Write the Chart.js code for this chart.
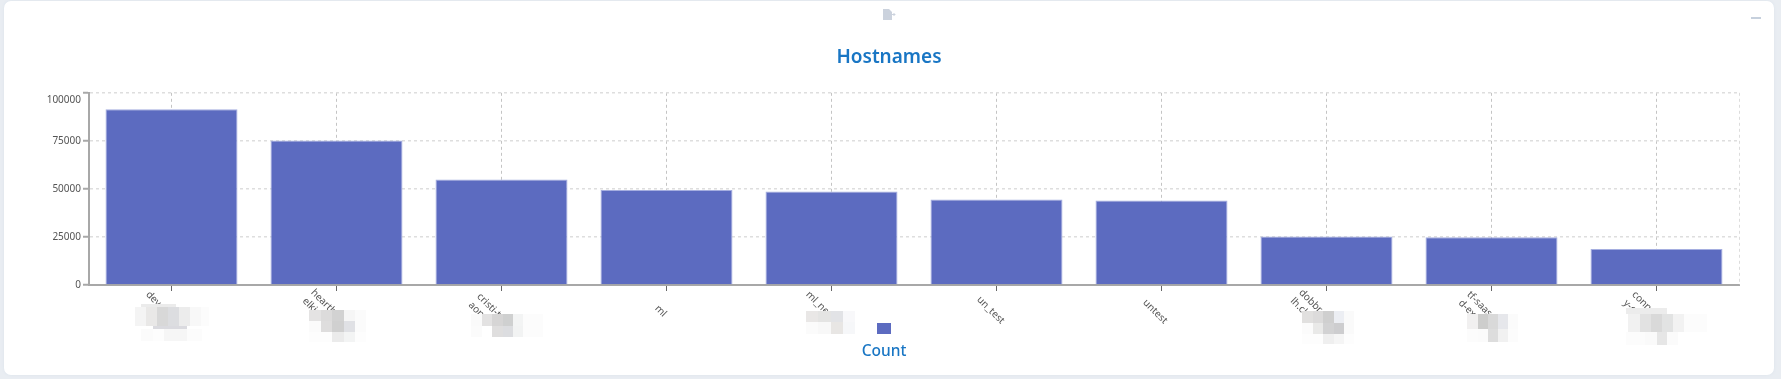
<!DOCTYPE html>
<html>
<head>
<meta charset="utf-8">
<script src="https://cdn.jsdelivr.net/npm/chart.js@4/dist/chart.umd.min.js"></script>
<style>
html,body{margin:0;padding:0;width:1781px;height:379px;overflow:hidden;background:#e9edf2}
#card{position:absolute;left:4px;top:1px;width:1770px;height:374px;background:#fff;border-radius:7px;box-shadow:0 0 3px #dbe3ec}
#chart{position:absolute;left:0;top:0}
#minus{position:absolute;left:1751px;top:17px;width:10px;height:2px;background:#c6d0dd}
#exp{position:absolute;left:883px;top:9px}
</style>
</head>
<body>
<div id="card"></div>
<canvas id="chart" width="1781" height="379"></canvas>
<svg id="exp" width="13" height="11" viewBox="0 0 13 11"><path d="M0 0h6l3 3v8H0z" fill="#cbd2dd"/><path d="M7 5.5h5M10.5 4l1.5 1.5L10.5 7" stroke="#cbd2dd" fill="none"/></svg>
<div id="minus"></div>
<script>
const chartTitle = 'Hostnames';
const seriesName = 'Count';
const categories = [
  ['dev'], ['heartbe', 'elkin'], ['cristi-t', 'aon'], ['ml'], ['ml_ne'],
  ['un_test'], ['untest'], ['dobbr', 'lh.cl'], ['tf-saas', 'd-ext'], ['conn', 'y-ch']
];
const counts = [91500, 75150, 54850, 49480, 48600, 44450, 43900, 25170, 24830, 18750];
const yTicks = [0, 25000, 50000, 75000, 100000];

// layout: where each rotated label starts, relative to its tick
const labelDx = [-24, -24, -23, -10, -24, -18, -17, -26, -23, -23];
const labelY = [293, 291, 295, 307, 293, 298, 301, 291, 293, 293];

// pixelated redaction patches that sit over the long hostnames
const patches = [
 [141,304,35,3,'#ebebeb'],[135,307,11,19,'#f4f4f4'],[146,307,11,19,'#e9e8e7'],[157,307,11,19,'#d8d8d8'],[168,307,11,19,'#dcdde0'],[179,307,11,19,'#ececec'],[190,307,11,19,'#f8f8f8'],[201,307,8,19,'#fcfcfc'],[153,326,34,3,'#dadadf'],[141,329,12,12,'#fbfbfb'],[153,329,12,12,'#fdfdfd'],[164,329,23,12,'#f6f6f6'],[187,329,15,12,'#fcfcfc'],
 [309,310,12,11,'#e4e3e3'],[321,310,11,11,'#dcdbdb'],[332,310,12,11,'#d2d2d2'],[344,310,11,11,'#f6f6f6'],[355,310,11,11,'#fbfbfb'],[309,321,12,11,'#fbfbfb'],[321,321,11,11,'#dedddd'],[332,321,12,11,'#d0d0d0'],[344,321,11,11,'#e0e1e5'],[355,321,11,11,'#fbfbfb'],[309,332,23,10,'#fdfdfd'],[332,332,12,10,'#ebebeb'],[344,332,11,10,'#f3f4f4'],[355,332,11,10,'#fdfdfd'],
 [471,314,11,12,'#fafafa'],[482,314,10,12,'#e3e2e2'],[492,314,11,12,'#d6d5d5'],[503,314,10,12,'#cfd0d0'],[513,314,10,12,'#f3f4f4'],[523,314,20,12,'#fcfcfc'],[471,326,11,11,'#fbfbfb'],[482,326,10,11,'#ffffff'],[492,326,11,11,'#dfdede'],[503,326,10,11,'#dcdde0'],[513,326,10,11,'#f2f3f3'],[523,326,20,11,'#fcfcfc'],
 [806,311,12,11,'#e9e7e6'],[818,311,13,11,'#e4e4e3'],[831,311,12,11,'#e2e3e6'],[843,311,12,11,'#f8f8fa'],[806,322,12,12,'#fbfbfb'],[818,322,13,12,'#f8f8f8'],[831,322,12,12,'#e8e6e4'],[843,322,12,12,'#f6f7f9'],
 [1302,311,11,12,'#e1e0df'],[1313,311,10,12,'#dcdbdb'],[1323,311,11,12,'#cfcfcf'],[1334,311,10,12,'#eceef3'],[1344,311,10,12,'#fafafa'],[1302,323,11,11,'#fbfbfb'],[1313,323,10,11,'#e9e9e8'],[1323,323,11,11,'#d2d2d3'],[1334,323,10,11,'#cdcdcf'],[1344,323,10,11,'#fafafa'],[1302,334,21,10,'#fdfdfd'],[1323,334,11,10,'#efefef'],[1334,334,10,10,'#f5f5f5'],[1344,334,10,10,'#fdfdfd'],
 [1467,314,11,15,'#f1f0f0'],[1478,314,10,15,'#cdcdcc'],[1488,314,10,15,'#d9d9d9'],[1498,314,10,15,'#e6e7eb'],[1508,314,10,15,'#fbfbfb'],[1467,329,11,13,'#fcfcfc'],[1478,329,10,13,'#fbfbfb'],[1488,329,10,13,'#dddddd'],[1498,329,10,13,'#f1f1f1'],[1508,329,10,13,'#fcfcfc'],
 [1626,308,41,6,'#ececec'],[1628,314,12,18,'#f1f1f1'],[1640,314,11,18,'#e2e2e2'],[1651,314,11,18,'#d9d9d9'],[1662,314,11,18,'#e2e3e3'],[1673,314,11,18,'#f2f2f2'],[1684,314,23,18,'#fcfcfc'],[1626,332,19,13,'#fcfcfc'],[1645,332,12,13,'#fafafa'],[1657,332,10,13,'#e6e6e6'],[1667,332,11,13,'#fbfbfb']
];

const FONT = '"Noto Sans", sans-serif';
const BLUE = '#1976c4';

const skin = {
  id: 'skin',
  beforeDatasetsDraw(chart) {
    // closing dotted edge on the right of the plot
    const {ctx, chartArea: a} = chart;
    ctx.save();
    ctx.strokeStyle = '#dcdcdc';
    ctx.lineWidth = 1;
    ctx.setLineDash([3, 3]);
    ctx.beginPath();
    ctx.moveTo(a.right + 0.5, a.top);
    ctx.lineTo(a.right + 0.5, a.bottom);
    ctx.stroke();
    ctx.restore();
  },
  beforeDraw(chart) {
    // tick labels read clockwise from a start point below each tick
    const x = chart.scales.x;
    x.getLabelItems(chart.chartArea).forEach((item, i) => {
      item.options.rotation = Math.PI / 4;
      item.options.textAlign = 'left';
      item.options.textBaseline = 'middle';
      item.options.translation = [x.getPixelForTick(i) + labelDx[i], labelY[i]];
      item.textOffset = 0;
    });
  },
  afterDraw(chart) {
    const {ctx} = chart;
    ctx.save();
    patches.forEach(([px, py, w, h, c]) => { ctx.fillStyle = c; ctx.fillRect(px, py, w, h); });
    // legend: swatch stacked over its name
    const ds = chart.data.datasets[0];
    ctx.fillStyle = ds.backgroundColor;
    ctx.fillRect(877, 323, 14, 11);
    ctx.fillStyle = BLUE;
    ctx.font = '500 15.5px ' + FONT;
    ctx.textAlign = 'center';
    ctx.textBaseline = 'middle';
    ctx.fillText(ds.label, 884, 352);
    ctx.restore();
  }
};

new Chart(document.getElementById('chart'), {
  type: 'bar',
  data: {
    labels: categories,
    datasets: [{
      label: seriesName,
      data: counts,
      backgroundColor: '#5c6bc0',
      borderColor: '#a5aee0',
      borderWidth: 1,
      categoryPercentage: 0.8,
      barPercentage: 1
    }]
  },
  options: {
    responsive: false,
    animation: false,
    layout: {padding: {left: 39, right: 42, top: 0, bottom: 0}},
    plugins: {
      legend: {display: false},
      tooltip: {enabled: false},
      title: {
        display: true,
        text: chartTitle,
        color: BLUE,
        font: {family: FONT, size: 19, weight: '600', lineHeight: 1.2},
        padding: {top: 46, bottom: 24}
      }
    },
    scales: {
      x: {
        type: 'category',
        afterFit(s) { s.height = 94; },
        grid: {offset: false, color: '#c4c4c4', lineWidth: 1, tickColor: '#666', tickLength: 6, tickWidth: 1, tickBorderDash: []},
        border: {color: '#a8a8a8', width: 2, dash: [3, 3]},
        ticks: {autoSkip: false, minRotation: 0, maxRotation: 0, color: '#555', font: {family: FONT, size: 10, lineHeight: 1.2}}
      },
      y: {
        min: 0,
        max: 100000,
        afterFit(s) { s.width = 50; },
        afterBuildTicks(s) { s.ticks = yTicks.map(value => ({value})); },
        grid: {color: '#dedede', lineWidth: 1.5, tickColor: '#a8a8a8', tickLength: 6, tickWidth: 2, tickBorderDash: []},
        border: {color: '#a8a8a8', width: 2, dash: [3, 3]},
        ticks: {
          padding: 2,
          color: '#555',
          font: {family: FONT, size: 10, lineHeight: 1.4},
          callback: v => v === 100000 ? ['', String(v)] : String(v)
        }
      }
    }
  },
  plugins: [skin]
});
</script>
</body>
</html>
